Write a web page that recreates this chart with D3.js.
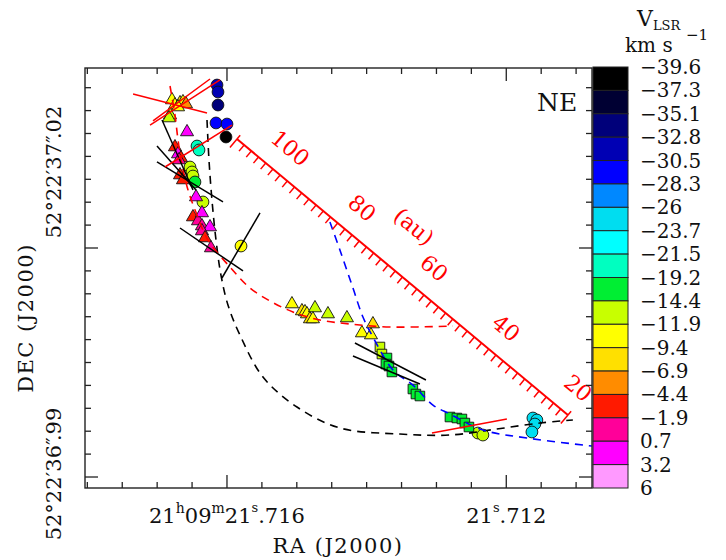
<!DOCTYPE html>
<html>
<head>
<meta charset="utf-8">
<script src="https://cdn.jsdelivr.net/npm/d3@7"></script>
<style>
  body { margin: 0; background: #fff; }
  text { font-family: "DejaVu Serif", serif; }
</style>
</head>
<body>
<svg id="chart" width="726" height="560"></svg>
<script>
// ---- velocity colour bar (km/s), listed from top to bottom ----
const vBreaks = [-39.6, -37.3, -35.1, -32.8, -30.5, -28.3, -26, -23.7, -21.5, -19.2,
                 -14.4, -11.9, -9.4, -6.9, -4.4, -1.9, 0.7, 3.2, 6];
const vColors = ["#000000", "#000033", "#00007a", "#0000b4", "#0000ff", "#0088ff",
                 "#00ddf0", "#00ffff", "#00ffc0", "#00ee33", "#c8ff00", "#ffff00",
                 "#ffe000", "#ff8c00", "#ff1a00", "#ff0099", "#ff00ff", "#ff99ff"];

// ---- maser spots: [east offset (mas), north offset (mas), V_LSR (km/s)] ----
const triangles = [
  [7.21, 19.39, -10.6], [6.82, 18.73, -10.6], [6.16, 19.00, -8.0], [5.77, 19.13, -10.6],
  [5.38, 18.86, -5.6], [6.42, 18.47, -10.6], [7.47, 17.42, -13.0], [7.60, 17.03, -13.0],
  [5.24, 15.20, 2.0],
  [6.82, 13.23, -3.0], [6.42, 12.31, 2.0], [6.03, 11.79, -3.0], [6.29, 11.53, -0.6],
  [6.16, 9.56, -3.0], [5.77, 8.91, -3.0], [4.06, 6.68, 2.0], [4.46, 4.06, -3.0],
  [3.80, 3.54, -0.6], [3.28, 4.59, 2.0], [3.28, 2.88, -0.6], [2.23, 2.75, 2.0],
  [3.28, 2.23, -0.6], [2.88, 1.31, -3.0], [2.10, 0.00, -0.6],
  [-8.52, -7.34, -10.6], [-9.83, -8.25, -8.0], [-10.23, -8.38, -10.6], [-10.49, -8.65, -10.6],
  [-11.54, -7.86, -13.0], [-10.88, -9.30, -8.0], [-11.27, -9.30, -10.6], [-13.24, -8.65, -13.0],
  [-15.73, -9.17, -13.0], [-19.14, -9.96, -8.0], [-17.70, -11.14, -10.6], [-18.88, -11.40, -10.6]
];
const circles = [
  [1.31, 21.35, -31.6], [1.18, 20.44, -31.6], [1.18, 18.73, -34.0], [1.44, 16.38, -29.4],
  [0.00, 16.24, -29.4], [0.13, 14.54, -38.5], [3.93, 13.36, -20.4], [3.67, 12.84, -20.4],
  [4.85, 10.61, -13.0], [4.59, 9.96, -13.0], [4.46, 9.43, -13.0], [4.20, 8.65, -16.8],
  [3.15, 6.03, -13.0], [-1.84, 0.26, -10.6],
  [-32.91, -24.24, -13.0], [-33.56, -24.50, -13.0],
  [-40.12, -22.27, -24.8], [-40.64, -22.53, -24.8], [-40.38, -23.06, -24.8], [-39.99, -24.10, -24.8]
];
const squares = [
  [-20.06, -12.97, -13.0], [-20.32, -13.89, -13.0], [-20.98, -14.41, -16.8], [-20.84, -15.20, -16.8],
  [-21.24, -15.46, -16.8], [-21.63, -16.24, -16.8], [-24.38, -18.47, -16.8], [-24.78, -19.13, -16.8],
  [-25.30, -19.39, -16.8], [-29.24, -22.14, -16.8], [-30.15, -22.27, -16.8], [-30.81, -22.40, -16.8],
  [-31.20, -22.93, -16.8], [-31.73, -23.45, -16.8]
];

// ---- polarization vectors: [east1, north1, east2, north2] (mas) ----
const vectorsRed = [
  [12.32, 20.17, 2.62, 17.69], [10.09, 16.11, 0.92, 22.01], [9.70, 16.64, 2.23, 22.14],
  [8.13, 10.61, -0.66, 16.11], [-26.88, -24.24, -36.71, -22.40]
];
const vectorsBlack = [
  [8.52, 16.77, 4.46, 7.60], [9.18, 13.36, 4.06, 7.60], [9.18, 11.27, 0.52, 6.03],
  [6.16, 2.62, -2.10, -3.01], [-4.33, 4.59, 0.66, -3.93],
  [-16.78, -12.45, -26.09, -17.29], [-16.52, -14.15, -25.30, -17.82]
];

// ---- fitted arcs (mas) ----
const arcBlack = [[2.62, 16.77], [2.36, 11.53], [1.97, 6.29], [1.44, 1.05], [0.79, -3.54],
  [-0.13, -7.47], [-1.70, -11.40], [-4.72, -16.90], [-9.18, -20.83], [-14.81, -23.58],
  [-22.68, -24.37], [-29.24, -24.50], [-35.40, -23.71], [-41.03, -22.93], [-45.36, -22.53]];
const arcRed = [[7.47, 21.22], [6.82, 17.42], [6.42, 14.15], [5.90, 10.87], [5.11, 7.60],
  [3.93, 4.32], [2.49, 1.05], [-0.39, -2.49], [-3.02, -5.24], [-5.64, -6.94], [-8.65, -8.38],
  [-12.19, -9.43], [-16.13, -9.96], [-21.37, -10.35], [-29.63, -10.22]];
const arcBlue = [[-13.50, 3.41], [-14.81, -0.26], [-16.39, -4.85], [-17.83, -9.04],
  [-19.14, -11.66], [-21.76, -15.98], [-24.38, -17.95], [-27.01, -20.57], [-29.24, -21.75],
  [-33.56, -23.84], [-39.33, -24.89], [-47.85, -25.94]];

// ---- distance bar (au) ----
const rulerStart = [-1.31, 14.28];
const rulerEnd = [-44.71, -21.88];
const rulerAu = [110, 18];
const rulerLabels = [100, 80, 60, 40, 20];

// ---- axis reference values ----
const RA0 = 21.716, DEC0 = 37.02;          // seconds of RA / arcsec of Dec at the offset origin
const raMajor = [21.716, 21.712];
const decMajor = [37.02, 36.99];

// ----------------------------------------------------------------
const svg = d3.select("#chart");
const masPerSec = 15000 * Math.cos((52 + 22 / 60 + 37 / 3600) * Math.PI / 180);
const raToEast = ra => (ra - RA0) * masPerSec;
const decToNorth = d => (d - DEC0) * 1000;

const L = 85, R = 592, T = 68, B = 488;
const x = d3.scaleLinear().domain([18.62, -47.87]).range([L, R]);
const y = d3.scaleLinear().domain([-31.44, 23.58]).range([B, T]);
const color = d3.scaleThreshold().domain(vBreaks.slice(1, -1)).range(vColors);

// markers
const gM = svg.append("g");
const tri = d3.symbol().type(d3.symbolTriangle).size(74);
const sq = d3.symbol().type(d3.symbolSquare).size(92);
function drawMarks(data, path) {
  gM.selectAll(null).data(data).enter().append(path ? "path" : "circle")
    .each(function (d) {
      const s = d3.select(this);
      if (path) s.attr("d", path).attr("transform", `translate(${x(d[0])},${y(d[1])})`);
      else s.attr("cx", x(d[0])).attr("cy", y(d[1])).attr("r", 5.9);
    })
    .attr("fill", d => color(d[2]))
    .attr("stroke", "#111").attr("stroke-width", 0.9);
}
drawMarks(circles, null);
drawMarks(squares, sq);
drawMarks(triangles, tri);

// arcs
const line = d3.line().x(d => x(d[0])).y(d => y(d[1])).curve(d3.curveCatmullRom);
[[arcBlack, "#000"], [arcRed, "#ff0000"], [arcBlue, "#0000ff"]].forEach(([pts, c]) => {
  svg.append("path").attr("d", line(pts)).attr("fill", "none")
    .attr("stroke", c).attr("stroke-width", 1.6).attr("stroke-dasharray", "8,6");
});

// polarization vectors
[[vectorsBlack, "#000"], [vectorsRed, "#ff0000"]].forEach(([vs, c]) => {
  svg.append("g").selectAll("line").data(vs).enter().append("line")
    .attr("x1", d => x(d[0])).attr("y1", d => y(d[1]))
    .attr("x2", d => x(d[2])).attr("y2", d => y(d[3]))
    .attr("stroke", c).attr("stroke-width", 1.5);
});

// distance bar
const p0 = [x(rulerStart[0]), y(rulerStart[1])], p1 = [x(rulerEnd[0]), y(rulerEnd[1])];
const rdx = p1[0] - p0[0], rdy = p1[1] - p0[1], rlen = Math.hypot(rdx, rdy);
const ux = rdx / rlen, uy = rdy / rlen, nx = uy, ny = -ux;
const ang = Math.atan2(rdy, rdx) * 180 / Math.PI;
const auPos = au => {
  const t = (rulerAu[0] - au) / (rulerAu[0] - rulerAu[1]);
  return [p0[0] + t * rdx, p0[1] + t * rdy];
};
const gR = svg.append("g").attr("stroke", "#ff0000").attr("stroke-width", 1.5);
gR.append("line").attr("x1", p0[0]).attr("y1", p0[1]).attr("x2", p1[0]).attr("y2", p1[1]).attr("stroke-width", 2);
const auTicks = d3.range(rulerAu[1], rulerAu[0] + 0.1, 2);
gR.selectAll(null).data(auTicks).enter().append("line")
  .each(function (a) {
    const p = auPos(a);
    const end = (a === rulerAu[0] || a === rulerAu[1]);
    const lo = end ? 11 : 8, hi = end ? 5 : 0;
    d3.select(this).attr("x1", p[0] + nx * hi).attr("y1", p[1] + ny * hi)
      .attr("x2", p[0] - nx * lo).attr("y2", p[1] - ny * lo);
  });
svg.append("g").selectAll("text").data(rulerLabels).enter().append("text")
  .attr("transform", a => { const p = auPos(a); return `translate(${p[0] + nx * 27},${p[1] + ny * 27}) rotate(${ang})`; })
  .attr("text-anchor", "middle").attr("dominant-baseline", "central")
  .attr("font-size", 22).attr("fill", "#ff0000").text(d => d);
{
  const p = auPos(69);
  svg.append("text").attr("transform", `translate(${p[0] + nx * 46},${p[1] + ny * 46}) rotate(${ang})`)
    .attr("text-anchor", "middle").attr("dominant-baseline", "central")
    .attr("font-size", 22).attr("fill", "#ff0000").text("(au)");
}

// frame and ticks
svg.append("rect").attr("x", L).attr("y", T).attr("width", R - L).attr("height", B - T)
  .attr("fill", "none").attr("stroke", "#222").attr("stroke-width", 1.4);
const near = (v, arr) => arr.some(m => Math.abs(v - m) < 1e-7);
const raTicks = d3.range(0, 16).map(i => +(21.7180 - i * 0.0005).toFixed(4))
  .filter(r => { const e = raToEast(r); return e <= 18.62 && e >= -47.87; });
const decTicks = d3.range(-1, 19).map(k => +(36.99 + k * 0.003).toFixed(3))
  .filter(d => { const n = decToNorth(d); return n >= -31.44 && n <= 23.58; });
const gT = svg.append("g").attr("stroke", "#222").attr("stroke-width", 1.3);
raTicks.forEach(r => {
  const px = x(raToEast(r)), len = near(r, raMajor) ? 13 : 6;
  gT.append("line").attr("x1", px).attr("x2", px).attr("y1", B).attr("y2", B - len);
  gT.append("line").attr("x1", px).attr("x2", px).attr("y1", T).attr("y2", T + len);
});
decTicks.forEach(d => {
  const py = y(decToNorth(d)), len = near(d, decMajor) ? 13 : 6;
  gT.append("line").attr("y1", py).attr("y2", py).attr("x1", L).attr("x2", L + len);
  gT.append("line").attr("y1", py).attr("y2", py).attr("x1", R).attr("x2", R - len);
});

// RA tick labels
const raLab = svg.append("g").attr("font-size", 21).attr("fill", "#111");
{
  const frac = v => "." + String(v).split(".")[1];
  const t = raLab.append("text").attr("x", x(raToEast(raMajor[0]))).attr("y", 523).attr("text-anchor", "middle");
  t.append("tspan").text("21");
  t.append("tspan").attr("dy", -10).attr("font-size", 14).text("h");
  t.append("tspan").attr("dy", 10).text("09");
  t.append("tspan").attr("dy", -10).attr("font-size", 14).text("m");
  t.append("tspan").attr("dy", 10).text("21");
  t.append("tspan").attr("dy", -11).attr("font-size", 13).text("s");
  t.append("tspan").attr("dy", 11).text(frac(raMajor[0]));
  const t2 = raLab.append("text").attr("x", x(raToEast(raMajor[1]))).attr("y", 523).attr("text-anchor", "middle");
  t2.append("tspan").text("21");
  t2.append("tspan").attr("dy", -11).attr("font-size", 13).text("s");
  t2.append("tspan").attr("dy", 11).text(frac(raMajor[1]));
}
// Dec tick labels (rotated)
const decLabel = (d, cy) => {
  const t = svg.append("text").attr("font-size", 21).attr("fill", "#111")
    .attr("transform", `translate(61,${cy}) rotate(-90)`).attr("text-anchor", "middle");
  const [s, f] = d.toFixed(2).split(".");
  t.append("tspan").text("52°22′" + s);
  t.append("tspan").text("″");
  t.append("tspan").attr("dx", -4).text("." + f);
};
decLabel(decMajor[0], y(decToNorth(decMajor[0])) - 76);
decLabel(decMajor[1], y(decToNorth(decMajor[1])) - 3);

// axis titles
svg.append("text").attr("x", 338).attr("y", 553).attr("text-anchor", "middle")
  .attr("font-size", 21).attr("letter-spacing", 1.5).attr("fill", "#111").text("RA (J2000)");
svg.append("text").attr("transform", "translate(33,318) rotate(-90)").attr("text-anchor", "middle")
  .attr("font-size", 21).attr("letter-spacing", 1.5).attr("fill", "#111").text("DEC (J2000)");

// NE marker
svg.append("text").attr("x", 537).attr("y", 111).attr("font-size", 25).attr("fill", "#111").text("NE");

// colour bar
const cbX = 593, cbW = 35;
const cy = d3.scalePoint().domain(vBreaks).range([67, 488]);
const gC = svg.append("g");
gC.selectAll("rect").data(vColors).enter().append("rect")
  .attr("x", cbX).attr("width", cbW)
  .attr("y", (c, i) => cy(vBreaks[i])).attr("height", (c, i) => cy(vBreaks[i + 1]) - cy(vBreaks[i]))
  .attr("fill", c => c).attr("stroke", "#222").attr("stroke-width", 1);
gC.selectAll("text").data(vBreaks).enter().append("text")
  .attr("x", 640).attr("y", v => cy(v)).attr("dominant-baseline", "central")
  .attr("font-size", 20).attr("fill", "#111")
  .text(v => (v < 0 ? "\u2212" + Math.abs(v) : String(v)));

// colour bar title: V_LSR over km s^-1
{
  const t = svg.append("text").attr("x", 637).attr("y", 26).attr("font-size", 22).attr("fill", "#111");
  t.append("tspan").text("V");
  t.append("tspan").attr("dy", 4).attr("font-size", 13).text("LSR");
  svg.append("text").attr("x", 625).attr("y", 52).attr("font-size", 20).attr("fill", "#111").text("km s");
  svg.append("text").attr("x", 686).attr("y", 40).attr("font-size", 15).attr("fill", "#111").text("\u22121");
}
</script>
</body>
</html>
